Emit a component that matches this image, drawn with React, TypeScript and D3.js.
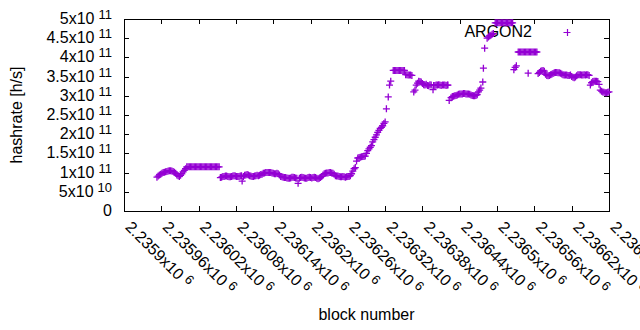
import React from "react";
import * as d3 from "d3";

const BLOCK_BASE = 2235900;

// block number offsets (from BLOCK_BASE)
const blockOffsets = [
  53, 55, 57, 59, 61, 63, 65, 67, 69, 71, 73, 75, 77, 79, 81, 83, 85, 87, 89, 91, 93, 95, 97, 99, 101,
  103, 105, 107, 109, 111, 113, 115, 117, 119, 121, 123, 125, 127, 129, 131, 133, 135, 137, 139, 141,
  143, 145, 147, 149, 151, 153,
  155, 157, 159, 161, 163, 165, 167, 169, 171, 173, 175, 177, 179, 181, 183, 185, 187, 189, 190, 192,
  194, 196, 198, 200,
  202, 204, 206, 208, 210, 212, 214, 216, 218, 220, 222, 224, 226, 228, 230, 232, 234, 236, 238, 240,
  242, 244, 246, 248, 250,
  252, 254, 256, 258, 260, 262, 264, 266, 268, 270, 272, 274, 276, 278, 280, 282, 284, 286, 288, 290,
  292, 294, 296, 298, 300, 302, 304, 306, 308, 310, 312, 314, 316, 318, 320, 322, 324, 326, 328, 330,
  332, 334, 336, 338, 340, 342, 344, 346, 348, 350, 352, 354, 356, 358, 360, 362, 364, 366, 368, 370,
  372, 374, 376, 378, 380, 382, 384, 386, 388, 390, 392, 394, 396, 398, 400, 402, 404, 406, 408, 410,
  412, 414, 416, 418, 420, 422, 425, 427, 429,
  433, 435, 437, 439, 441, 443, 445, 447, 449, 451,
  453, 455, 457, 459, 461, 463, 466, 468, 470, 472, 474, 476, 478, 480, 482, 484, 486, 488, 490, 492,
  494, 497, 498, 500, 502, 504, 506, 508, 510, 512, 514, 516, 518, 520, 521, 523, 526, 528, 530, 532,
  534, 536, 538, 540, 542, 544, 546, 548, 550, 552, 554, 556, 558, 560, 562, 564, 566, 568, 570, 572,
  574, 577, 578, 580, 584, 586, 588, 590, 592, 594,
  597, 599, 601, 603, 605, 607, 609, 611, 613, 615, 617, 619, 621, 623, 625,
  627, 629, 631,
  634, 636, 638, 640, 642, 644, 646, 648, 650, 652, 654, 656, 658, 660, 662, 664,
  650,
  666, 668, 670, 672, 674, 676, 678, 680, 682, 684, 686, 688, 690, 692, 694, 696, 698, 700, 702, 704,
  706, 708, 710, 712, 714, 716, 718, 720, 722, 724, 726, 728, 730, 732, 734, 736, 738, 740, 742, 744,
  746, 748, 750, 752, 754, 756, 758, 760, 762, 764, 766, 768, 770, 772, 774, 776, 778, 780,
];

// hashrate in units of 1e11 h/s
const hashrateE11 = [
  0.88, 0.91, 0.94, 0.96, 0.98, 1.0, 1.01, 1.02, 1.03, 1.04, 1.05, 1.05, 1.04, 1.03, 1.01, 0.98, 0.94, 0.92, 0.9, 0.93, 0.97, 1.02, 1.06, 1.1, 1.15,
  1.15, 1.15, 1.15, 1.15, 1.15, 1.15, 1.15, 1.15, 1.15, 1.15, 1.15, 1.15, 1.15, 1.15, 1.15, 1.15, 1.15, 1.15, 1.15, 1.15,
  1.15, 1.15, 1.15, 1.15, 1.15, 1.15,
  0.87, 0.88, 0.9, 0.9, 0.91, 0.91, 0.9, 0.89, 0.89, 0.9, 0.91, 0.92, 0.91, 0.9, 0.9, 0.9, 0.91, 0.92, 0.78, 0.9,
  0.93, 0.94, 0.95, 0.94,
  0.92, 0.91, 0.9, 0.9, 0.91, 0.92, 0.93, 0.92, 0.93, 0.95, 0.96, 0.98, 0.99, 1.0, 1.0, 1.0, 1.0, 1.0, 0.99, 0.98,
  0.97, 0.97, 0.98, 0.97, 0.94,
  0.9, 0.89, 0.88, 0.87, 0.87, 0.86, 0.85, 0.85, 0.86, 0.88, 0.88, 0.87, 0.86, 0.85, 0.72, 0.85, 0.87, 0.88, 0.87, 0.86,
  0.85, 0.85, 0.87, 0.88, 0.87, 0.86, 0.87, 0.88, 0.87, 0.85, 0.84, 0.85, 0.87, 0.9, 0.94, 0.97, 0.98, 0.99, 0.99, 1.0,
  1.0, 0.99, 0.98, 0.96, 0.92, 0.91, 0.91, 0.9, 0.89, 0.89, 0.9, 0.89, 0.88, 0.89, 0.9, 0.9, 0.92, 0.97, 1.04, 1.1,
  1.13, 1.3, 1.38, 1.39, 1.4, 1.41, 1.42, 1.42, 1.43, 1.5, 1.57, 1.62, 1.66, 1.7, 1.8, 1.86, 1.92, 1.98, 2.05, 2.1,
  2.15, 2.18, 2.22, 2.28, 2.32, 2.66, 2.97, 3.28, 3.38,
  3.66, 3.66, 3.66, 3.66, 3.66, 3.66, 3.66, 3.66, 3.66, 3.66,
  3.55, 3.55, 3.54, 3.54, 3.54, 3.53, 3.1, 3.15, 3.28, 3.33, 3.38, 3.37, 3.36, 3.32, 3.29, 3.28, 3.3, 3.27, 3.26, 3.29,
  3.28, 3.16, 3.27, 3.27, 3.28, 3.28, 3.29, 3.28, 3.27, 3.28, 3.28, 3.28, 3.27, 3.28, 3.28, 2.88, 2.95, 2.98, 2.99, 3.0,
  3.01, 3.02, 3.04, 3.05, 3.05, 3.05, 3.06, 3.06, 3.05, 3.05, 3.05, 3.04, 3.02, 3.01, 3.0, 3.0, 3.01, 3.03, 3.1, 3.15,
  3.2, 3.36, 3.72, 4.24, 4.5, 4.53, 4.56, 4.58, 4.6, 4.62,
  4.9, 4.9, 4.9, 4.9, 4.9, 4.9, 4.9, 4.9, 4.9, 4.9, 4.9, 4.9, 4.9, 4.9, 4.9,
  3.68, 3.74, 3.78,
  4.14, 4.14, 4.14, 4.14, 4.14, 4.14, 4.14, 4.14, 4.14, 4.14, 4.14, 4.14, 4.14, 4.14, 4.14, 4.14,
  3.59,
  3.58, 3.61, 3.64, 3.65, 3.66, 3.64, 3.56, 3.53, 3.52, 3.53, 3.55, 3.56, 3.58, 3.6, 3.61, 3.61, 3.6, 3.6, 3.59, 3.57,
  3.55, 3.54, 3.54, 3.54, 3.53, 3.53, 3.54, 3.5, 3.48, 3.47, 3.49, 3.52, 3.55, 3.55, 3.55, 3.54, 3.54, 3.55, 3.54, 3.55,
  3.55, 3.53, 3.28, 3.34, 3.37, 3.38, 3.38, 3.38, 3.37, 3.3, 3.15, 3.12, 3.1, 3.09, 3.08, 3.08, 3.09, 3.1,
];

const xTickValues = [
  2235900, 2235960, 2236020, 2236080, 2236140, 2236200, 2236260,
  2236320, 2236380, 2236440, 2236500, 2236560, 2236620, 2236680,
];
const xTickMantissa = [
  "2.2359", "2.23596", "2.23602", "2.23608", "2.23614", "2.2362", "2.23626",
  "2.23632", "2.23638", "2.23644", "2.2365", "2.23656", "2.23662", "2.23668",
];
const xTickExp = ["6", "6", "6", "6", "6", "6", "6", "6", "6", "6", "6", "6", "6", "6"];

// y ticks in units of 1e11
const yTickValues = [0, 0.5, 1, 1.5, 2, 2.5, 3, 3.5, 4, 4.5, 5];
const yTickMantissa = ["0", "5", "1", "1.5", "2", "2.5", "3", "3.5", "4", "4.5", "5"];
const yTickExp = ["", "10", "11", "11", "11", "11", "11", "11", "11", "11", "11"];

const seriesName = "ARGON2";
const xTitle = "block number";
const yTitle = "hashrate [h/s]";

const W = 640;
const H = 330;
const L = 124;
const R = 609;
const T = 19;
const B = 211;
const COLOR = "#9400d3";
const FONT = "'Liberation Sans', Arial, sans-serif";
const FS = 16;
const TICK = 5;

export default function App() {
  const x = d3.scaleLinear().domain([2235900, 2236680]).range([L, R]);
  const y = d3.scaleLinear().domain([0, 5]).range([B, T]);
  const arm = 3.5;

  return (
    <svg
      width={W}
      height={H}
      style={{ position: "absolute", left: 0, top: 0, background: "#fff" }}
      fontFamily={FONT}
      fontSize={FS}
    >
      <rect x={0} y={0} width={W} height={H} fill="#fff" />
      {/* border */}
      <rect x={L + 0.5} y={T + 0.5} width={R - L} height={B - T} fill="none" stroke="#000" strokeWidth={1} />
      {/* y ticks */}
      {yTickValues.map((v, i) => {
        const ty = Math.round(y(v)) + 0.5;
        return (
          <g key={"yt" + i}>
            {i > 0 && i < yTickValues.length - 1 && (
              <>
                <line x1={L} x2={L + TICK} y1={ty} y2={ty} stroke="#000" />
                <line x1={R - TICK} x2={R} y1={ty} y2={ty} stroke="#000" />
              </>
            )}
            <text x={112} y={y(v) + 5} textAnchor="end" fill="#000">
              {yTickMantissa[i]}
              {yTickExp[i] && (
                <>
                  <tspan>x10</tspan>
                  <tspan dx={4} dy={-5} fontSize={13}>
                    {yTickExp[i]}
                  </tspan>
                </>
              )}
            </text>
          </g>
        );
      })}
      {/* x ticks */}
      {xTickValues.map((v, i) => {
        const tx = Math.round(x(v)) + 0.5;
        return (
          <g key={"xt" + i}>
            {i > 0 && i < xTickValues.length - 1 && (
              <>
                <line x1={tx} x2={tx} y1={B} y2={B - TICK} stroke="#000" />
                <line x1={tx} x2={tx} y1={T} y2={T + TICK} stroke="#000" />
              </>
            )}
            <g transform={`translate(${x(v) + 0.5},228) rotate(45)`}>
              <text x={0} y={0} fill="#000">
                {xTickMantissa[i]}x10
                <tspan dx={4} dy={-5} fontSize={13}>
                  {xTickExp[i]}
                </tspan>
              </text>
            </g>
          </g>
        );
      })}
      {/* axis titles */}
      <text x={(L + R) / 2} y={320} textAnchor="middle" fill="#000">
        {xTitle}
      </text>
      <text transform={`translate(22,${(T + B) / 2}) rotate(-90)`} textAnchor="middle" fill="#000">
        {yTitle}
      </text>
      {/* legend */}
      <text x={532} y={37} textAnchor="end" fill="#000">
        {seriesName}
      </text>
      <path d={`M${567 - arm},32.5h${2 * arm}M567.5,${32.5 - arm}v${2 * arm}`} stroke={COLOR} strokeWidth={1.2} fill="none" />
      {/* points */}
      <g stroke={COLOR} strokeWidth={1.3} fill="none">
        {blockOffsets.map((b, i) => {
          const cx = x(BLOCK_BASE + b);
          const cy = y(hashrateE11[i]);
          return <path key={i} d={`M${cx - arm},${cy}h${2 * arm}M${cx},${cy - arm}v${2 * arm}`} />;
        })}
      </g>
    </svg>
  );
}
